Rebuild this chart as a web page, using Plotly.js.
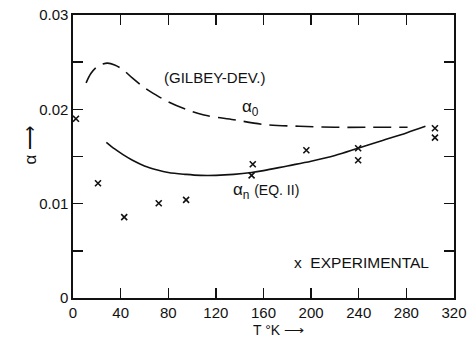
<!DOCTYPE html>
<html><head><meta charset="utf-8">
<script src="https://cdn.plot.ly/plotly-3.0.1.min.js"></script>
<style>html,body{margin:0;padding:0;background:#fff}#chart{width:472px;height:341px}</style>
</head><body><div id="chart"></div>
<script>
// Experimental points
var expT     = [2.5, 21, 43, 72, 95, 150, 151, 196, 239.5, 239.5, 304, 304];
var expAlpha = [0.0190, 0.01217, 0.00857, 0.01005, 0.0104, 0.0130, 0.01418, 0.01566, 0.01587, 0.0146, 0.0180, 0.0170];
// alpha_0 (Gilbey-Dev.) dashed curve
var a0T     = [11, 15, 20, 25, 29, 35, 42, 50, 60, 70, 80, 95, 110, 135, 160, 190, 220, 250, 281];
var a0Alpha = [0.0228, 0.0238, 0.0245, 0.0248, 0.0249, 0.0247, 0.0242, 0.0233, 0.0223, 0.0215, 0.0208, 0.0200, 0.0194, 0.0189, 0.0184, 0.0182, 0.0181, 0.0181, 0.0181];
// alpha_n (Eq. II) solid curve
var anT     = [28, 35, 42, 50, 60, 70, 80, 95, 107, 120, 135, 150, 160, 180, 200, 220, 240, 260, 280, 296];
var anAlpha = [0.0165, 0.0158, 0.0152, 0.0146, 0.0140, 0.0136, 0.0133, 0.0131, 0.0130, 0.0130, 0.0131, 0.0133, 0.0135, 0.0140, 0.0145, 0.0151, 0.0159, 0.0167, 0.0175, 0.0182];
// ticks
var xTickVals = [0, 40, 80, 120, 160, 200, 240, 280, 320];
var xTickText = ['0', '40', '80', '120', '160', '200', '240', '280', '320'];
var yTickVals = [0, 0.01, 0.02, 0.03];
var yTickText = ['0', '0.01', '0.02', '0.03'];
var yMinorVals = [0.005, 0.015, 0.025];

var FONT = 'Liberation Sans, Arial, sans-serif';
var traces = [
  {x: a0T, y: a0Alpha, mode: 'lines', line: {color: '#111', width: 1.6, dash: '18px,8px', shape: 'spline'}, hoverinfo: 'skip'},
  {x: anT, y: anAlpha, mode: 'lines', line: {color: '#111', width: 1.6, shape: 'spline'}, hoverinfo: 'skip'},
  {x: expT, y: expAlpha, mode: 'markers', marker: {symbol: 'x-thin', size: 6, line: {color: '#111', width: 1.6}, color: '#111'}}
];
var axisCommon = {showgrid: false, zeroline: false, showline: true, linecolor: '#111', linewidth: 1.6,
  mirror: 'ticks', ticks: 'inside', ticklen: 10, tickwidth: 1.4, tickcolor: '#111',
  tickfont: {family: FONT, size: 15, color: '#111'}, tickmode: 'array'};
var layout = {
  width: 472, height: 341,
  margin: {l: 73, r: 18, t: 15, b: 43},
  paper_bgcolor: '#fff', plot_bgcolor: '#fff',
  showlegend: false,
  xaxis: Object.assign({}, axisCommon, {range: [0, 320], tickvals: xTickVals, ticktext: xTickText}),
  yaxis: Object.assign({}, axisCommon, {range: [0, 0.03], tickvals: yTickVals, ticktext: yTickText,
    minor: {tickmode: 'array', tickvals: yMinorVals, ticks: 'inside', ticklen: 10, tickwidth: 1.4, tickcolor: '#111', showgrid: false}}),
  annotations: [
    {x: 119, y: 0.0234, xref: 'x', yref: 'y', text: '(GILBEY-DEV.)', showarrow: false, font: {family: FONT, size: 15, color: '#111'}},
    {x: 149, y: 0.0201, xref: 'x', yref: 'y', text: 'α<sub>0</sub>', showarrow: false, font: {family: FONT, size: 17, color: '#111'}},
    {x: 162, y: 0.0113, xref: 'x', yref: 'y', text: 'α<sub>n</sub> <span style="font-size:14px">(EQ. II)</span>', showarrow: false, font: {family: FONT, size: 17, color: '#111'}},
    {x: 242, y: 0.0038, xref: 'x', yref: 'y', text: 'x  EXPERIMENTAL', showarrow: false, font: {family: FONT, size: 15.5, color: '#111'}},
    {x: -0.142, y: 0.54, xref: 'paper', yref: 'paper', text: 'α ⟶', textangle: -90, showarrow: false, font: {family: FONT, size: 17, color: '#111'}},
    {x: 0.54, y: -0.112, xref: 'paper', yref: 'paper', yanchor: 'middle', text: 'T °K ⟶', showarrow: false, font: {family: FONT, size: 14, color: '#111'}}
  ]
};
Plotly.newPlot('chart', traces, layout, {staticPlot: true, displayModeBar: false});
</script>
</body></html>
